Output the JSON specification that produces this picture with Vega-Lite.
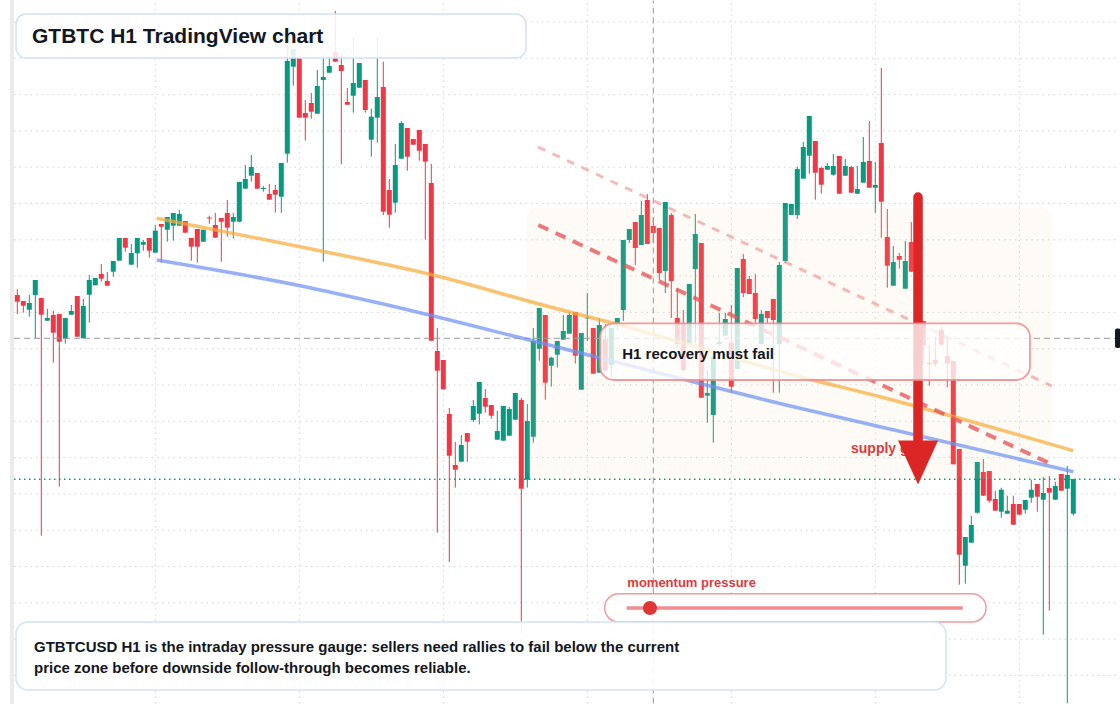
{
  "$schema": "https://vega.github.io/schema/vega-lite/v6.json",
  "width": 1120,
  "height": 704,
  "autosize": {"type": "none"},
  "padding": 0,
  "background": "#ffffff",
  "config": {"view": {"stroke": null}, "scale": {"continuousPadding": 0}, "text": {"font": "Liberation Sans", "fontWeight": "bold"}},
  "datasets": {
    "candles": [
      {"i":0,"o":409,"h":415,"l":390,"c":402.3},{"i":1,"o":403,"h":403,"l":391.3,"c":398.3},{"i":2,"o":394.3,"h":409,"l":387.3,"c":401},{"i":3,"o":409,"h":424,"l":365.7,"c":424},{"i":4,"o":406,"h":406,"l":168.3,"c":389.3},{"i":5,"o":383.3,"h":395,"l":383.3,"c":386},{"i":6,"o":389,"h":393,"l":341.3,"c":371.3},{"i":7,"o":390,"h":390,"l":217.3,"c":362.3},{"i":8,"o":365.3,"h":386,"l":360.3,"c":386},{"i":9,"o":389.3,"h":399,"l":389.3,"c":393},
      {"i":10,"o":408,"h":408,"l":367.3,"c":367.3},{"i":11,"o":365.7,"h":405,"l":365.7,"c":398},{"i":12,"o":409.3,"h":429,"l":381.3,"c":424},{"i":13,"o":418.7,"h":426,"l":418.7,"c":426},{"i":14,"o":430,"h":440,"l":422.3,"c":425.3},{"i":15,"o":423,"h":432,"l":418.3,"c":418.3},{"i":16,"o":432.3,"h":443,"l":427.3,"c":443},{"i":17,"o":443.3,"h":466,"l":443.3,"c":466},{"i":18,"o":466,"h":466,"l":452.3,"c":456.3},{"i":19,"o":439.3,"h":460,"l":439.3,"c":451},
      {"i":20,"o":450.7,"h":466,"l":436.3,"c":466},{"i":21,"o":459.3,"h":464,"l":453.3,"c":462},{"i":22,"o":466,"h":466,"l":446.3,"c":453.3},{"i":23,"o":451.3,"h":479,"l":451.3,"c":473.3},{"i":24,"o":480,"h":480,"l":441.3,"c":477.3},{"i":25,"o":474.3,"h":487,"l":462.3,"c":487},{"i":26,"o":478.3,"h":491,"l":463.3,"c":491},{"i":27,"o":478.3,"h":494,"l":478.3,"c":490},{"i":28,"o":483,"h":483,"l":471.3,"c":471.3},{"i":29,"o":466,"h":466,"l":443.3,"c":457.3},
      {"i":30,"o":475,"h":475,"l":441.3,"c":457.3},{"i":31,"o":462.3,"h":474.3,"l":462.3,"c":474.3},{"i":32,"o":486.5,"h":488.3,"l":480.3,"c":485.5},{"i":33,"o":479,"h":491,"l":466.3,"c":466.3},{"i":34,"o":486,"h":486,"l":442.3,"c":482.3},{"i":35,"o":491,"h":504,"l":467.3,"c":476.3},{"i":36,"o":482.3,"h":491,"l":465.3,"c":487},{"i":37,"o":482.3,"h":522,"l":482.3,"c":522},{"i":38,"o":515.3,"h":539,"l":515.3,"c":525},{"i":39,"o":528.3,"h":549,"l":522.3,"c":537},
      {"i":40,"o":531,"h":531,"l":515.3,"c":515.3},{"i":41,"o":515,"h":518,"l":512.3,"c":516},{"i":42,"o":510,"h":520,"l":504.3,"c":504.3},{"i":43,"o":514,"h":519,"l":491.3,"c":509.3},{"i":44,"o":507.3,"h":541,"l":491.3,"c":541},{"i":45,"o":550.3,"h":659,"l":541.3,"c":643},{"i":46,"o":637.3,"h":655,"l":618.3,"c":655},{"i":47,"o":646,"h":646,"l":586.3,"c":586.3},{"i":48,"o":591,"h":604,"l":563.3,"c":586.3},{"i":49,"o":601,"h":611,"l":585.3,"c":592.3},
      {"i":50,"o":590.3,"h":634,"l":590.3,"c":618},{"i":51,"o":624,"h":649,"l":442.3,"c":627},{"i":52,"o":631.3,"h":646,"l":631.3,"c":638},{"i":53,"o":652,"h":693,"l":642.3,"c":642.3},{"i":54,"o":639,"h":652,"l":540,"c":633},{"i":55,"o":602,"h":616,"l":599.3,"c":599.3},{"i":56,"o":608.3,"h":667,"l":591.3,"c":621},{"i":57,"o":616.3,"h":641,"l":616.3,"c":641},{"i":58,"o":624,"h":624,"l":591.3,"c":594},{"i":59,"o":564.3,"h":595.3,"l":547.3,"c":587.3},
      {"i":60,"o":586.3,"h":667,"l":561.3,"c":607},{"i":61,"o":617,"h":642.3,"l":489,"c":492.3},{"i":62,"o":514,"h":525,"l":476.3,"c":489.3},{"i":63,"o":501.3,"h":560,"l":491.3,"c":539},{"i":64,"o":545.3,"h":583,"l":545.3,"c":581},{"i":65,"o":576,"h":576,"l":533.3,"c":547.3},{"i":66,"o":565,"h":565,"l":559.3,"c":559.3},{"i":67,"o":574,"h":574,"l":543.3,"c":553.3},{"i":68,"o":560,"h":560,"l":464.3,"c":542.3},{"i":69,"o":521,"h":540,"l":363.3,"c":363.3},
      {"i":70,"o":353,"h":376,"l":171.3,"c":333.3},{"i":71,"o":344,"h":344,"l":314.7,"c":314.7},{"i":72,"o":290,"h":296,"l":142,"c":248.3},{"i":73,"o":239,"h":262,"l":216.3,"c":234.3},{"i":74,"o":242.3,"h":269,"l":242.3,"c":259},{"i":75,"o":271,"h":271,"l":242.3,"c":262.3},{"i":76,"o":284,"h":304,"l":282,"c":298},{"i":77,"o":290.3,"h":322,"l":279.7,"c":322},{"i":78,"o":306,"h":315,"l":291.3,"c":297.3},{"i":79,"o":299,"h":299,"l":285.3,"c":288.3},
      {"i":80,"o":264.3,"h":293,"l":264.3,"c":273},{"i":81,"o":263.3,"h":298,"l":263.3,"c":298},{"i":82,"o":268.3,"h":297,"l":268.3,"c":295},{"i":83,"o":284.3,"h":311,"l":284.3,"c":311},{"i":84,"o":304,"h":306,"l":71,"c":215.3},{"i":85,"o":224.3,"h":300,"l":216.3,"c":283},{"i":86,"o":267.3,"h":376,"l":261.3,"c":363},{"i":87,"o":355.3,"h":396,"l":343.3,"c":396},{"i":88,"o":389,"h":389,"l":304.3,"c":321.3},{"i":89,"o":338.3,"h":347.3,"l":317.3,"c":346.3},
      {"i":90,"o":349.3,"h":363,"l":336.3,"c":363},{"i":91,"o":364.3,"h":389,"l":364.3,"c":373},{"i":92,"o":370.3,"h":392,"l":370.3,"c":389},{"i":93,"o":392,"h":392,"l":340.3,"c":348.3},{"i":94,"o":314.3,"h":371,"l":314.3,"c":371},{"i":95,"o":385.5,"h":411,"l":363,"c":386.5},{"i":96,"o":376,"h":376,"l":330.3,"c":330.3},{"i":97,"o":331.3,"h":386,"l":331.3,"c":379},{"i":98,"o":365,"h":380,"l":333.3,"c":333.3},{"i":99,"o":339,"h":376,"l":327.3,"c":376},
      {"i":100,"o":379,"h":386,"l":374,"c":386},{"i":101,"o":394,"h":464,"l":383,"c":464},{"i":102,"o":464,"h":475,"l":461,"c":475},{"i":103,"o":482,"h":482,"l":439,"c":456},{"i":104,"o":459,"h":503,"l":459,"c":489},{"i":105,"o":504,"h":510,"l":460,"c":460},{"i":106,"o":478,"h":487,"l":461,"c":471},{"i":107,"o":476,"h":476,"l":424,"c":431},{"i":108,"o":433,"h":502,"l":411,"c":502},{"i":109,"o":489,"h":491,"l":386,"c":423},
      {"i":110,"o":386,"h":416,"l":356,"c":360},{"i":111,"o":381,"h":394,"l":332,"c":334},{"i":112,"o":361,"h":420,"l":359,"c":420},{"i":113,"o":435,"h":490,"l":361,"c":470},{"i":114,"o":461,"h":461,"l":306.3,"c":306.3},{"i":115,"o":308.3,"h":334,"l":281.3,"c":311},{"i":116,"o":289,"h":347.3,"l":261.3,"c":347.3},{"i":117,"o":360,"h":391,"l":359,"c":362},{"i":118,"o":368.3,"h":391,"l":368.3,"c":385},{"i":119,"o":361.3,"h":399,"l":311.3,"c":317.3},
      {"i":120,"o":335,"h":436,"l":335,"c":436},{"i":121,"o":445,"h":450,"l":407,"c":411},{"i":122,"o":425,"h":428,"l":410,"c":410},{"i":123,"o":411,"h":430,"l":381,"c":385},{"i":124,"o":360,"h":394,"l":360,"c":390},{"i":125,"o":393,"h":393,"l":381,"c":386},{"i":126,"o":405,"h":405,"l":311.3,"c":384},{"i":127,"o":360,"h":442,"l":311.3,"c":439},{"i":128,"o":443,"h":501,"l":441,"c":501},{"i":129,"o":489,"h":500,"l":489,"c":500},
      {"i":130,"o":489,"h":537.3,"l":485,"c":535},{"i":131,"o":525.3,"h":562,"l":525.3,"c":557},{"i":132,"o":548.3,"h":588,"l":530.3,"c":588},{"i":133,"o":563,"h":563,"l":504.3,"c":531.3},{"i":134,"o":536,"h":537.3,"l":510.3,"c":519.3},{"i":135,"o":534.3,"h":541,"l":534.3,"c":538},{"i":136,"o":529.3,"h":550,"l":528.3,"c":538},{"i":137,"o":548,"h":548,"l":510.3,"c":510.3},{"i":138,"o":528.3,"h":545,"l":528.3,"c":538},{"i":139,"o":537,"h":538,"l":511.3,"c":511.3},
      {"i":140,"o":510.3,"h":538,"l":510.3,"c":515},{"i":141,"o":521.3,"h":567,"l":521.3,"c":542},{"i":142,"o":543,"h":583,"l":516.3,"c":516.3},{"i":143,"o":516.3,"h":542,"l":491.3,"c":519},{"i":144,"o":561,"h":636,"l":466.3,"c":502.3},{"i":145,"o":467,"h":495,"l":416.3,"c":438.3},{"i":146,"o":418.3,"h":458,"l":418.3,"c":442},{"i":147,"o":448,"h":451,"l":435.3,"c":444.3},{"i":148,"o":415.3,"h":463,"l":415.3,"c":443},{"i":149,"o":462,"h":482,"l":432.3,"c":432.3},
      {"i":150,"o":432,"h":436,"l":378,"c":383},{"i":151,"o":383,"h":383,"l":341.3,"c":358.3},{"i":152,"o":341.3,"h":359.3,"l":318.3,"c":339.7},{"i":153,"o":344,"h":367.3,"l":337.3,"c":340.3},{"i":154,"o":374,"h":377.3,"l":359.3,"c":359.3},{"i":155,"o":348,"h":366.3,"l":316.7,"c":340.3},{"i":156,"o":343,"h":343,"l":239.7,"c":239.7},{"i":157,"o":255,"h":255,"l":119.3,"c":149.3},{"i":158,"o":138.3,"h":167,"l":120.3,"c":167},{"i":159,"o":161.3,"h":188,"l":161.3,"c":179},
      {"i":160,"o":191.3,"h":242,"l":190.3,"c":242},{"i":161,"o":232,"h":245,"l":208.3,"c":208.3},{"i":162,"o":233,"h":233,"l":201.3,"c":203.3},{"i":163,"o":205,"h":213.3,"l":193.3,"c":193.3},{"i":164,"o":192.3,"h":216.3,"l":186.3,"c":214.3},{"i":165,"o":190.3,"h":208.3,"l":190.3,"c":193.3},{"i":166,"o":200,"h":208.3,"l":179.3,"c":179.3},{"i":167,"o":200,"h":200,"l":189.3,"c":189.3},{"i":168,"o":194.3,"h":204,"l":190.3,"c":204},{"i":169,"o":206.3,"h":224.3,"l":201.3,"c":214.3},
      {"i":170,"o":220,"h":220,"l":192.3,"c":207.3},{"i":171,"o":204.3,"h":227,"l":69.3,"c":211},{"i":172,"o":216,"h":228,"l":93.3,"c":211.3},{"i":173,"o":204.3,"h":222.3,"l":204.3,"c":218},{"i":174,"o":230,"h":230,"l":213.3,"c":213.3},{"i":175,"o":215.3,"h":238,"l":0.7,"c":229},{"i":176,"o":190.3,"h":225,"l":188.3,"c":225}
    ],
    "vgrid": [{"g":23},{"g":47},{"g":71},{"g":95},{"g":119},{"g":143},{"g":167}],
    "hgrid": [{"v":682},{"v":645.7},{"v":609.4},{"v":573.1},{"v":536.8},{"v":500.5},{"v":464.2},{"v":427.9},{"v":391.6},{"v":355.3},{"v":319},{"v":282.7},{"v":246.4},{"v":210.1},{"v":173.8},{"v":137.5},{"v":101.2},{"v":64.9},{"v":28.6}],
    "orange": [{"i":23.23,"p":485.7},{"i":47.12,"p":457.3},{"i":70.45,"p":427.3},{"i":87.12,"p":399.7},{"i":99.33,"p":380.7},{"i":130.45,"p":327.3},{"i":143.78,"p":307.3},{"i":176,"p":253.3}],
    "blue": [{"i":23.23,"p":444},{"i":47.12,"p":418.3},{"i":60.45,"p":400.7},{"i":87.12,"p":361.3},{"i":130.45,"p":295.7},{"i":143.78,"p":277.3},{"i":176,"p":232.3}],
    "upper": [{"i":86.78,"p":557},{"i":172.4,"p":318}],
    "lower": [{"i":86.83,"p":479},{"i":172.4,"p":239.7}]
  },
  "layer": [
    {"data": {"name": "vgrid"}, "mark": {"type": "rule", "stroke": "#d4d4d4", "strokeWidth": 1, "strokeDash": [1.5, 4]},
     "encoding": {"x": {"field": "g", "type": "quantitative", "scale": {"domain": [-2.883, 183.783], "nice": false, "zero": false, "padding": 0}, "axis": null},
                  "y": {"datum": 0.5, "scale": {"domain": [0, 704], "nice": false, "zero": false, "padding": 0}, "axis": null}, "y2": {"datum": 703.5}}},
    {"data": {"name": "hgrid"}, "mark": {"type": "rule", "stroke": "#d4d4d4", "strokeWidth": 1, "strokeDash": [1.5, 4]},
     "encoding": {"y": {"field": "v", "type": "quantitative", "scale": {"domain": [0, 704], "nice": false, "zero": false, "padding": 0}, "axis": null},
                  "x": {"datum": -0.55, "scale": {"domain": [-2.883, 183.783], "nice": false, "zero": false, "padding": 0}, "axis": null}, "x2": {"datum": 183.7}}},
    {"data": {"values": [{}]}, "mark": {"type": "rect", "fill": "#ebebeb"},
     "encoding": {"x": {"datum": -1.217, "scale": {"domain": [-2.883, 183.783], "nice": false, "zero": false, "padding": 0}, "axis": null}, "x2": {"datum": -0.55},
                  "y": {"datum": 0, "scale": {"domain": [0, 704], "nice": false, "zero": false, "padding": 0}, "axis": null}, "y2": {"datum": 704}}},
    {"data": {"name": "candles"}, "mark": {"type": "rule", "strokeWidth": 1},
     "encoding": {"x": {"field": "i", "type": "quantitative", "scale": {"domain": [-2.883, 183.783], "nice": false, "zero": false, "padding": 0}, "axis": null},
                  "y": {"field": "l", "type": "quantitative", "scale": {"domain": [0, 704], "nice": false, "zero": false, "padding": 0}, "axis": null},
                  "y2": {"field": "h"},
                  "color": {"condition": {"test": "datum.c >= datum.o", "value": "#089981"}, "value": "#f23645"}}},
    {"data": {"name": "candles"}, "mark": {"type": "bar", "size": 5},
     "encoding": {"x": {"field": "i", "type": "quantitative", "scale": {"domain": [-2.883, 183.783], "nice": false, "zero": false, "padding": 0}, "axis": null},
                  "y": {"field": "o", "type": "quantitative", "scale": {"domain": [0, 704], "nice": false, "zero": false, "padding": 0}, "axis": null},
                  "y2": {"field": "c"},
                  "color": {"condition": {"test": "datum.c >= datum.o", "value": "#089981"}, "value": "#f23645"}}},
    {"data": {"values": [{}]}, "mark": {"type": "rule", "stroke": "#9598a1", "strokeWidth": 1, "strokeDash": [6, 4]},
     "encoding": {"y": {"datum": 365.7, "scale": {"domain": [0, 704], "nice": false, "zero": false, "padding": 0}, "axis": null},
                  "x": {"datum": -0.55, "scale": {"domain": [-2.883, 183.783], "nice": false, "zero": false, "padding": 0}, "axis": null}, "x2": {"datum": 182.95}}},
    {"data": {"values": [{}]}, "mark": {"type": "rule", "stroke": "#9598a1", "strokeWidth": 1, "strokeDash": [6, 4]},
     "encoding": {"x": {"datum": 106, "scale": {"domain": [-2.883, 183.783], "nice": false, "zero": false, "padding": 0}, "axis": null},
                  "y": {"datum": 0.5, "scale": {"domain": [0, 704], "nice": false, "zero": false, "padding": 0}, "axis": null}, "y2": {"datum": 703.5}}},
    {"data": {"values": [{}]}, "mark": {"type": "rule", "stroke": "#089981", "strokeWidth": 1.5, "strokeDash": [1.5, 3.5]},
     "encoding": {"y": {"datum": 224.7, "scale": {"domain": [0, 704], "nice": false, "zero": false, "padding": 0}, "axis": null},
                  "x": {"datum": -0.55, "scale": {"domain": [-2.883, 183.783], "nice": false, "zero": false, "padding": 0}, "axis": null}, "x2": {"datum": 183.7}}},
    {"data": {"values": [{}]}, "mark": {"type": "rect", "fill": "#f5c48e", "opacity": 0.09, "cornerRadius": 10},
     "encoding": {"x": {"datum": 84.9, "scale": {"domain": [-2.883, 183.783], "nice": false, "zero": false, "padding": 0}, "axis": null}, "x2": {"datum": 172.4},
                  "y": {"datum": 495.7, "scale": {"domain": [0, 704], "nice": false, "zero": false, "padding": 0}, "axis": null}, "y2": {"datum": 225}}},
    {"data": {"name": "orange"}, "mark": {"type": "line", "stroke": "#f6ac3c", "strokeWidth": 3.5, "opacity": 0.72, "interpolate": "monotone"},
     "encoding": {"x": {"field": "i", "type": "quantitative", "scale": {"domain": [-2.883, 183.783], "nice": false, "zero": false, "padding": 0}, "axis": null},
                  "y": {"field": "p", "type": "quantitative", "scale": {"domain": [0, 704], "nice": false, "zero": false, "padding": 0}, "axis": null}}},
    {"data": {"name": "blue"}, "mark": {"type": "line", "stroke": "#6f92f2", "strokeWidth": 3.5, "opacity": 0.72, "interpolate": "monotone"},
     "encoding": {"x": {"field": "i", "type": "quantitative", "scale": {"domain": [-2.883, 183.783], "nice": false, "zero": false, "padding": 0}, "axis": null},
                  "y": {"field": "p", "type": "quantitative", "scale": {"domain": [0, 704], "nice": false, "zero": false, "padding": 0}, "axis": null}}},
    {"data": {"name": "upper"}, "mark": {"type": "line", "stroke": "#f08c8c", "strokeWidth": 3, "opacity": 0.6, "strokeDash": [8, 8]},
     "encoding": {"x": {"field": "i", "type": "quantitative", "scale": {"domain": [-2.883, 183.783], "nice": false, "zero": false, "padding": 0}, "axis": null},
                  "y": {"field": "p", "type": "quantitative", "scale": {"domain": [0, 704], "nice": false, "zero": false, "padding": 0}, "axis": null}}},
    {"data": {"name": "lower"}, "mark": {"type": "line", "stroke": "#e65457", "strokeWidth": 4, "opacity": 0.78, "strokeDash": [11, 8]},
     "encoding": {"x": {"field": "i", "type": "quantitative", "scale": {"domain": [-2.883, 183.783], "nice": false, "zero": false, "padding": 0}, "axis": null},
                  "y": {"field": "p", "type": "quantitative", "scale": {"domain": [0, 704], "nice": false, "zero": false, "padding": 0}, "axis": null}}},
    {"data": {"values": [{}]}, "mark": {"type": "rect", "fill": "#ffffff", "fillOpacity": 0.88, "stroke": "#d3e1f6", "strokeWidth": 1.5, "cornerRadius": 10},
     "encoding": {"x": {"datum": -0.217, "scale": {"domain": [-2.883, 183.783], "nice": false, "zero": false, "padding": 0}, "axis": null}, "x2": {"datum": 84.78},
                  "y": {"datum": 690, "scale": {"domain": [0, 704], "nice": false, "zero": false, "padding": 0}, "axis": null}, "y2": {"datum": 646}}},
    {"data": {"values": [{}]}, "mark": {"type": "text", "text": "GTBTC H1 TradingView chart", "fontSize": 21, "fill": "#131722", "align": "left", "baseline": "alphabetic"},
     "encoding": {"x": {"datum": 2.45, "scale": {"domain": [-2.883, 183.783], "nice": false, "zero": false, "padding": 0}, "axis": null},
                  "y": {"datum": 660.7, "scale": {"domain": [0, 704], "nice": false, "zero": false, "padding": 0}, "axis": null}}},
    {"data": {"values": [{}]}, "mark": {"type": "text", "text": "supply gate", "fontSize": 14, "fill": "#e03a3e", "align": "left", "baseline": "alphabetic"},
     "encoding": {"x": {"datum": 138.95, "scale": {"domain": [-2.883, 183.783], "nice": false, "zero": false, "padding": 0}, "axis": null},
                  "y": {"datum": 251, "scale": {"domain": [0, 704], "nice": false, "zero": false, "padding": 0}, "axis": null}}},
    {"data": {"values": [{}]}, "mark": {"type": "rule", "stroke": "#dc2626", "strokeWidth": 9.5, "strokeCap": "round"},
     "encoding": {"x": {"datum": 150.12, "scale": {"domain": [-2.883, 183.783], "nice": false, "zero": false, "padding": 0}, "axis": null},
                  "y": {"datum": 507, "scale": {"domain": [0, 704], "nice": false, "zero": false, "padding": 0}, "axis": null}, "y2": {"datum": 262}}},
    {"data": {"values": [{}]}, "mark": {"type": "point", "shape": "M-1,-1.1L1,-1.1L0,1.1Z", "size": 1600, "filled": true, "fill": "#dc2626", "opacity": 1},
     "encoding": {"x": {"datum": 150.12, "scale": {"domain": [-2.883, 183.783], "nice": false, "zero": false, "padding": 0}, "axis": null},
                  "y": {"datum": 241.5, "scale": {"domain": [0, 704], "nice": false, "zero": false, "padding": 0}, "axis": null}}},
    {"data": {"values": [{}]}, "mark": {"type": "rect", "fill": "#ffffff", "fillOpacity": 0.78, "stroke": "#ee8a8c", "strokeOpacity": 0.85, "strokeWidth": 1.8, "cornerRadius": 14},
     "encoding": {"x": {"datum": 97.12, "scale": {"domain": [-2.883, 183.783], "nice": false, "zero": false, "padding": 0}, "axis": null}, "x2": {"datum": 168.78},
                  "y": {"datum": 380.7, "scale": {"domain": [0, 704], "nice": false, "zero": false, "padding": 0}, "axis": null}, "y2": {"datum": 324}}},
    {"data": {"values": [{}]}, "mark": {"type": "text", "text": "H1 recovery must fail", "fontSize": 15, "fill": "#131722", "align": "left", "baseline": "alphabetic"},
     "encoding": {"x": {"datum": 100.83, "scale": {"domain": [-2.883, 183.783], "nice": false, "zero": false, "padding": 0}, "axis": null},
                  "y": {"datum": 344.7, "scale": {"domain": [0, 704], "nice": false, "zero": false, "padding": 0}, "axis": null}}},
    {"data": {"values": [{}]}, "mark": {"type": "text", "text": "momentum pressure", "fontSize": 13, "fill": "#e03a3e", "align": "left", "baseline": "alphabetic"},
     "encoding": {"x": {"datum": 101.67, "scale": {"domain": [-2.883, 183.783], "nice": false, "zero": false, "padding": 0}, "axis": null},
                  "y": {"datum": 117.3, "scale": {"domain": [0, 704], "nice": false, "zero": false, "padding": 0}, "axis": null}}},
    {"data": {"values": [{}]}, "mark": {"type": "rect", "fill": "#ffffff", "fillOpacity": 0.9, "stroke": "#ee8a8c", "strokeOpacity": 0.85, "strokeWidth": 1.5, "cornerRadius": 14},
     "encoding": {"x": {"datum": 97.9, "scale": {"domain": [-2.883, 183.783], "nice": false, "zero": false, "padding": 0}, "axis": null}, "x2": {"datum": 161.45},
                  "y": {"datum": 110.3, "scale": {"domain": [0, 704], "nice": false, "zero": false, "padding": 0}, "axis": null}, "y2": {"datum": 82}}},
    {"data": {"values": [{}]}, "mark": {"type": "rule", "stroke": "#ee8283", "strokeWidth": 3.5, "opacity": 0.9},
     "encoding": {"y": {"datum": 96, "scale": {"domain": [0, 704], "nice": false, "zero": false, "padding": 0}, "axis": null},
                  "x": {"datum": 101.57, "scale": {"domain": [-2.883, 183.783], "nice": false, "zero": false, "padding": 0}, "axis": null}, "x2": {"datum": 157.57}}},
    {"data": {"values": [{}]}, "mark": {"type": "point", "shape": "circle", "size": 200, "filled": true, "fill": "#e03535", "opacity": 1},
     "encoding": {"x": {"datum": 105.45, "scale": {"domain": [-2.883, 183.783], "nice": false, "zero": false, "padding": 0}, "axis": null},
                  "y": {"datum": 96, "scale": {"domain": [0, 704], "nice": false, "zero": false, "padding": 0}, "axis": null}}},
    {"data": {"values": [{}]}, "mark": {"type": "rect", "fill": "#ffffff", "fillOpacity": 0.9, "stroke": "#d3e1f6", "strokeWidth": 1.5, "cornerRadius": 12},
     "encoding": {"x": {"datum": -0.217, "scale": {"domain": [-2.883, 183.783], "nice": false, "zero": false, "padding": 0}, "axis": null}, "x2": {"datum": 154.78},
                  "y": {"datum": 82, "scale": {"domain": [0, 704], "nice": false, "zero": false, "padding": 0}, "axis": null}, "y2": {"datum": 14}}},
    {"data": {"values": [{}]}, "mark": {"type": "text", "text": "GTBTCUSD H1 is the intraday pressure gauge: sellers need rallies to fail below the current", "fontSize": 15, "fill": "#131722", "align": "left", "baseline": "alphabetic"},
     "encoding": {"x": {"datum": 2.78, "scale": {"domain": [-2.883, 183.783], "nice": false, "zero": false, "padding": 0}, "axis": null},
                  "y": {"datum": 52, "scale": {"domain": [0, 704], "nice": false, "zero": false, "padding": 0}, "axis": null}}},
    {"data": {"values": [{}]}, "mark": {"type": "text", "text": "price zone before downside follow-through becomes reliable.", "fontSize": 15, "fill": "#131722", "align": "left", "baseline": "alphabetic"},
     "encoding": {"x": {"datum": 2.78, "scale": {"domain": [-2.883, 183.783], "nice": false, "zero": false, "padding": 0}, "axis": null},
                  "y": {"datum": 31, "scale": {"domain": [0, 704], "nice": false, "zero": false, "padding": 0}, "axis": null}}},
    {"data": {"values": [{}]}, "mark": {"type": "rect", "fill": "#131722", "cornerRadius": 2},
     "encoding": {"x": {"datum": 182.95, "scale": {"domain": [-2.883, 183.783], "nice": false, "zero": false, "padding": 0}, "axis": null}, "x2": {"datum": 183.9},
                  "y": {"datum": 375.5, "scale": {"domain": [0, 704], "nice": false, "zero": false, "padding": 0}, "axis": null}, "y2": {"datum": 356}}}
  ]
}
